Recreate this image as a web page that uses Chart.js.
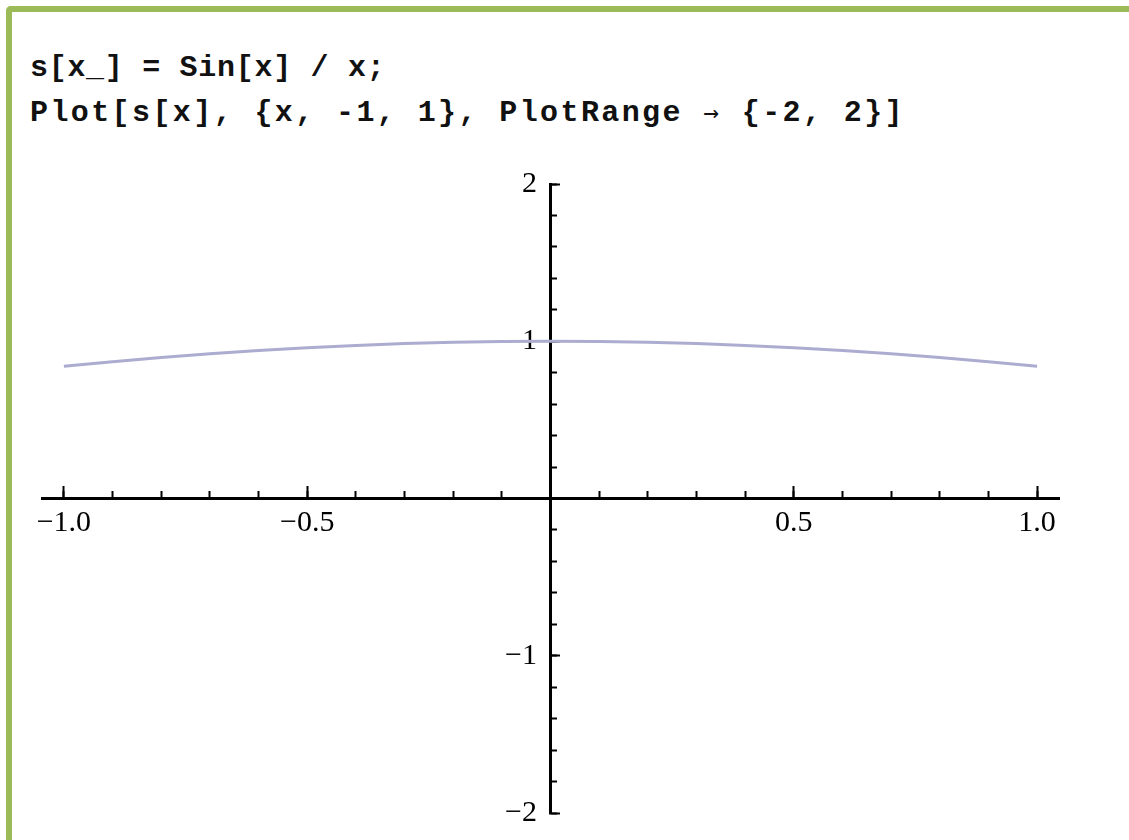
<!DOCTYPE html>
<html><head><meta charset="utf-8">
<script src="https://cdn.jsdelivr.net/npm/chart.js"></script>
<style>
html,body{margin:0;padding:0;background:#fff;width:1129px;height:840px;overflow:hidden;}
#frame{position:absolute;left:6px;top:6px;width:1160px;height:880px;border-top:6px solid #9bbb59;border-left:6px solid #9bbb59;border-top-left-radius:5px;box-sizing:border-box;}
.code{position:absolute;font-family:"Liberation Mono",monospace;font-size:30px;line-height:30px;color:#111;white-space:pre;font-weight:bold;}
.arr{font-family:"DejaVu Sans Mono",monospace;font-weight:normal;font-size:26px;}
#wrap{position:absolute;left:0;top:0;width:1129px;height:840px;}
</style></head><body>
<div id="frame"></div>
<div class="code" style="left:30px;top:53px;letter-spacing:0.7px">s[x_] = Sin[x] / x;</div>
<div class="code" style="left:30px;top:97px;letter-spacing:2.4px">Plot[s[x], {x, -1, 1}, PlotRange <span class="arr">→</span> {-2, 2}]</div>
<div id="wrap"><canvas id="c" width="1129" height="840"></canvas></div>
<script>
// sampled points of the plotted curve
const xValues = [-1.0, -0.9, -0.8, -0.7, -0.6, -0.5, -0.4, -0.3, -0.2, -0.1, 0.0,
                 0.1, 0.2, 0.3, 0.4, 0.5, 0.6, 0.7, 0.8, 0.9, 1.0];
const yValues = [0.841, 0.870, 0.897, 0.920, 0.941, 0.959, 0.973, 0.985, 0.993, 0.998, 1.000,
                 0.998, 0.993, 0.985, 0.973, 0.959, 0.941, 0.920, 0.897, 0.870, 0.841];
// axis ranges and tick steps
const xRange = [-1.045, 1.045];
const yRange = [-2, 2];
const xMajorStep = 0.5, xMinorStep = 0.1;
const yMajorStep = 1, yMinorStep = 0.2;

const MINUS = '\u2212';
function fmtX(v) {
  if (Math.abs(v) < 1e-9) return '';
  const s = Math.abs(v).toFixed(1);
  return v < 0 ? MINUS + s : s;
}
function fmtY(v) {
  if (Math.abs(v) < 1e-9) return '';
  const s = String(Math.round(Math.abs(v)));
  return (v < 0 ? MINUS + s : s) + ' \u2009';
}
const labelFont = {family: 'Liberation Serif', size: 30};

new Chart(document.getElementById('c'), {
  type: 'scatter',
  data: {
    datasets: [{
      data: xValues.map((x, i) => ({x: x, y: yValues[i]})),
      showLine: true,
      borderColor: 'rgb(172,172,208)',
      borderWidth: 3,
      pointRadius: 0,
      tension: 0,
      xAxisID: 'x',
      yAxisID: 'y'
    }]
  },
  options: {
    responsive: false,
    animation: false,
    devicePixelRatio: 1,
    layout: {padding: {left: 42, right: 70, top: 184, bottom: 27}},
    plugins: {legend: {display: false}, tooltip: {enabled: false}},
    scales: {
      x: {
        type: 'linear', axis: 'x', position: {y: 0},
        min: xRange[0], max: xRange[1],
        ticks: {stepSize: xMajorStep, includeBounds: false, autoSkip: false, maxRotation: 0,
                padding: 21, font: labelFont, color: '#000', callback: v => fmtX(v)},
        grid: {drawOnChartArea: false, drawTicks: true, tickLength: -14, tickWidth: 2, tickColor: '#000'},
        border: {display: true, color: '#000', width: 3}
      },
      xMinor: {
        type: 'linear', axis: 'x', position: {y: 0},
        min: xRange[0], max: xRange[1],
        ticks: {stepSize: xMinorStep, includeBounds: false, autoSkip: false, maxRotation: 0,
                callback: () => ''},
        grid: {drawOnChartArea: false, drawTicks: true, tickLength: -8, tickWidth: 2, tickColor: '#000'},
        border: {display: false}
      },
      y: {
        type: 'linear', axis: 'y', position: {x: 0},
        min: yRange[0], max: yRange[1],
        ticks: {stepSize: yMajorStep, includeBounds: false, autoSkip: false,
                font: labelFont, color: '#000', callback: v => fmtY(v)},
        grid: {drawOnChartArea: false, drawTicks: true, tickLength: -11, tickWidth: 2, tickColor: '#000'},
        border: {display: true, color: '#000', width: 3}
      },
      yMinor: {
        type: 'linear', axis: 'y', position: {x: 0},
        min: yRange[0], max: yRange[1],
        ticks: {stepSize: yMinorStep, includeBounds: false, autoSkip: false, callback: () => ''},
        grid: {drawOnChartArea: false, drawTicks: true, tickLength: -6, tickWidth: 2, tickColor: '#000'},
        border: {display: false}
      }
    }
  }
});
</script>
</body></html>
